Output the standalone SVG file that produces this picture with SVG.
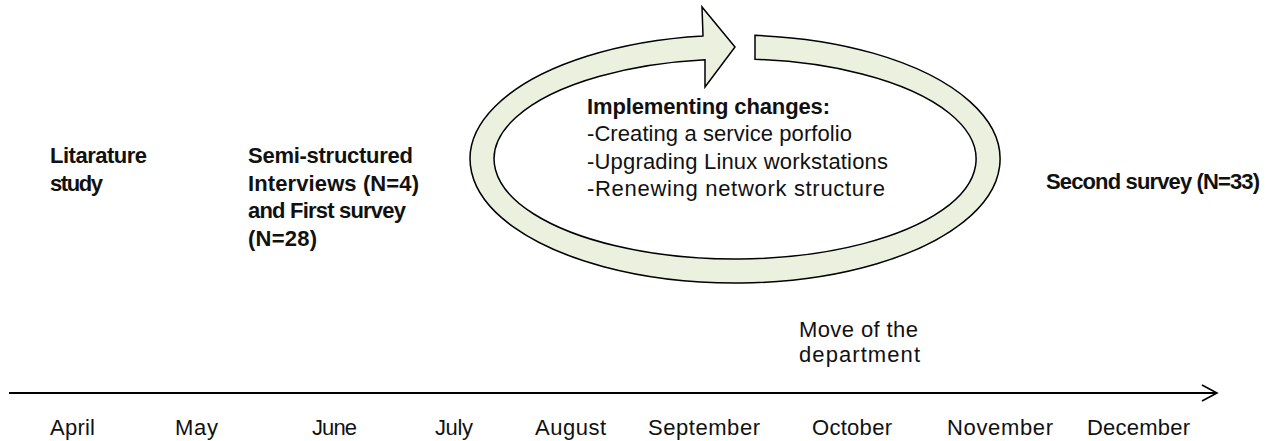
<svg xmlns="http://www.w3.org/2000/svg" width="1267" height="441" viewBox="0 0 1267 441">
  <style>
    text { font-family: "Liberation Sans", Arial, sans-serif; font-size: 22px; fill: #111; }
    .b { font-weight: bold; }
    .ring { fill: #EBF1DE; stroke: #000; stroke-width: 1.5; stroke-linejoin: miter; }
    .axis { fill: none; stroke: #000; stroke-width: 2; }
  </style>
  <defs>
    <marker id="open-arrow" markerUnits="userSpaceOnUse" markerWidth="20" markerHeight="20" refX="16" refY="10" orient="auto">
      <polyline points="1,2 16,10 1,18" fill="none" stroke="#000" stroke-width="1.6"/>
    </marker>
  </defs>

  <!-- circular change cycle: elliptical band ending in an arrowhead at the top -->
  <g id="cycle">
    <path class="ring" d="M755,35.35 A265,124 0 1,1 703,35.91 L702,7 L735,47 L705,87 L705,59.78 A241,100 0 1,0 755,59.34 Z"/>
    <text class="b" x="587" y="114" textLength="243">Implementing changes:</text>
    <text x="587" y="141" textLength="265">-Creating a service porfolio</text>
    <text x="587" y="169" textLength="301">-Upgrading Linux workstations</text>
    <text x="587" y="196" textLength="298">-Renewing network structure</text>
  </g>

  <g id="literature">
    <text class="b" x="50" y="163" textLength="97">Litarature</text>
    <text class="b" x="50" y="191" textLength="53">study</text>
  </g>

  <g id="interviews">
    <text class="b" x="248" y="163" textLength="165">Semi-structured</text>
    <text class="b" x="248" y="191" textLength="171">Interviews (N=4)</text>
    <text class="b" x="248" y="218" textLength="158">and First survey</text>
    <text class="b" x="248" y="246" textLength="69">(N=28)</text>
  </g>

  <g id="second-survey">
    <text class="b" x="1046" y="189" textLength="214">Second survey (N=33)</text>
  </g>

  <g id="move">
    <text x="799" y="337" textLength="119">Move of the</text>
    <text x="799" y="362" textLength="121">department</text>
  </g>

  <!-- time axis -->
  <g id="connectors">
    <line class="axis" x1="9" y1="393" x2="1217" y2="393" marker-end="url(#open-arrow)"/>
  </g>

  <g id="months">
    <text x="50" y="435" textLength="45">April</text>
    <text x="175" y="435" textLength="43">May</text>
    <text x="312" y="435" textLength="45">June</text>
    <text x="435" y="435" textLength="38">July</text>
    <text x="535" y="435" textLength="71">August</text>
    <text x="648" y="435" textLength="112">September</text>
    <text x="812" y="435" textLength="80">October</text>
    <text x="947" y="435" textLength="106">November</text>
    <text x="1087" y="435" textLength="103">December</text>
  </g>
</svg>
